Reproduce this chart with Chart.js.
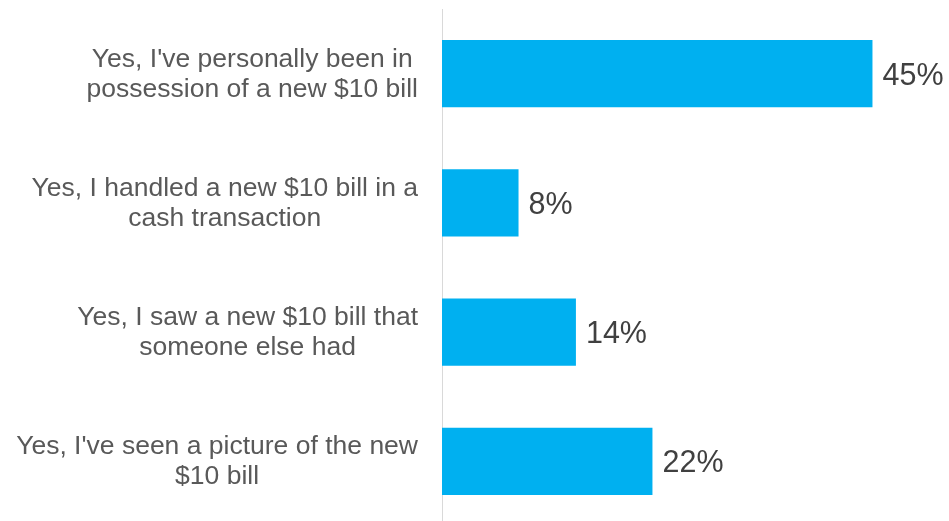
<!DOCTYPE html>
<html>
<head>
<meta charset="utf-8">
<script src="https://cdn.jsdelivr.net/npm/chart.js@4/dist/chart.umd.min.js"></script>
<style>
  html, body { margin: 0; padding: 0; background: #fff; overflow: hidden; }
  #wrap { width: 949px; height: 526px; }
</style>
</head>
<body>
<div id="wrap"><canvas id="chart"></canvas></div>
<script>
const CATEGORIES = [
  ["Yes, I've personally been in", "possession of a new $10 bill"],
  ["Yes, I handled a new $10 bill in a", "cash transaction"],
  ["Yes, I saw a new $10 bill that", "someone else had"],
  ["Yes, I've seen a picture of the new", "$10 bill"]
];
const VALUES = [45, 8, 14, 22];

const BAR_COLOR = '#00B0F0';
const FONT = '"Liberation Sans", Arial, sans-serif';

// category text: each label centred on its own widest line, block right-aligned to the axis
const categoryLabels = {
  id: 'categoryLabels',
  afterDraw(chart) {
    const { ctx, chartArea, scales: { y } } = chart;
    ctx.save();
    ctx.font = '26.5px ' + FONT;
    ctx.fillStyle = '#595959';
    ctx.textAlign = 'center';
    ctx.textBaseline = 'alphabetic';
    const right = chartArea.left - 24;
    const lh = 30;
    CATEGORIES.forEach((lines, i) => {
      const cy = y.getPixelForValue(i);
      const w = Math.max(...lines.map(l => ctx.measureText(l).width));
      const cx = right - w / 2;
      lines.forEach((l, j) => {
        ctx.fillText(l, cx, cy + (j - (lines.length - 1) / 2) * lh + 8);
      });
    });
    ctx.restore();
  }
};

// percentage text at the end of each bar
const valueLabels = {
  id: 'valueLabels',
  afterDatasetsDraw(chart) {
    const { ctx } = chart;
    const meta = chart.getDatasetMeta(0);
    ctx.save();
    ctx.font = '30.5px ' + FONT;
    ctx.fillStyle = '#404040';
    ctx.textAlign = 'left';
    ctx.textBaseline = 'alphabetic';
    meta.data.forEach((bar, i) => {
      ctx.fillText(VALUES[i] + '%', bar.x + 10, bar.y + 11);
    });
    ctx.restore();
  }
};

new Chart(document.getElementById('chart'), {
  type: 'bar',
  data: {
    labels: CATEGORIES,
    datasets: [{
      data: VALUES,
      backgroundColor: BAR_COLOR,
      borderWidth: 0,
      barPercentage: 0.52,
      categoryPercentage: 1
    }]
  },
  options: {
    indexAxis: 'y',
    responsive: true,
    maintainAspectRatio: false,
    animation: false,
    layout: { padding: { top: 9, right: 0, bottom: 0, left: 0 } },
    plugins: { legend: { display: false }, tooltip: { enabled: false } },
    scales: {
      x: {
        display: false,
        min: 0,
        max: 53
      },
      y: {
        grid: { display: false },
        border: { display: true, color: '#D9D9D9', width: 1 },
        ticks: { display: false },
        afterFit(scale) { scale.width = 442; }
      }
    }
  },
  plugins: [categoryLabels, valueLabels]
});
</script>
</body>
</html>
